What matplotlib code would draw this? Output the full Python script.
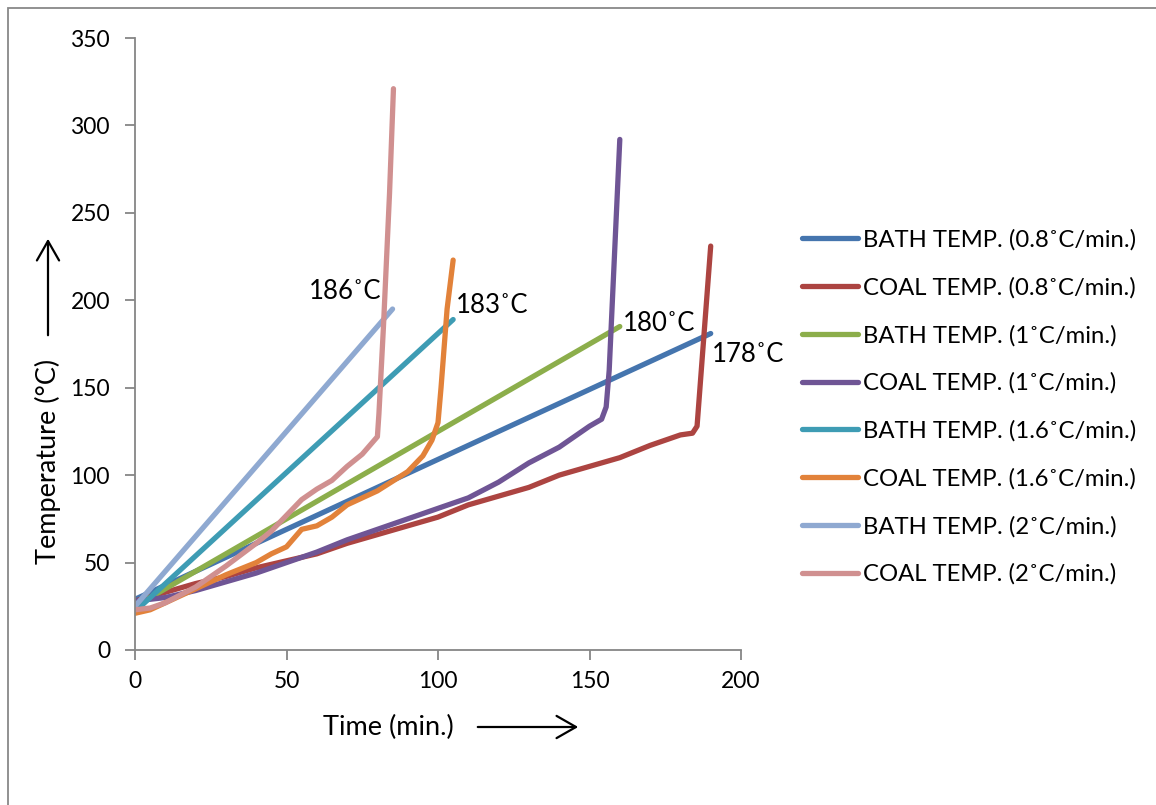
import matplotlib
matplotlib.use("Agg")
import matplotlib.pyplot as plt
from matplotlib.patches import Rectangle, FancyArrowPatch

plt.rcParams['font.family'] = ['Lato', 'DejaVu Sans']

# ---- data ----
bath08_x = [0, 190]
bath08_y = [29, 181]
coal08_x = [0, 10, 20, 30, 40, 50, 60, 70, 80, 90, 100, 110, 120, 130, 140, 150, 160, 170, 180, 184, 185.5, 190]
coal08_y = [28, 33, 38, 42, 47, 51, 55, 61, 66, 71, 76, 83, 88, 93, 100, 105, 110, 117, 123, 124, 128, 231]

bath1_x = [0, 160]
bath1_y = [25, 185]
coal1_x = [0, 10, 20, 30, 40, 50, 60, 70, 80, 90, 100, 110, 120, 130, 140, 150, 154, 155.5, 156.5, 160]
coal1_y = [28, 30, 34, 39, 44, 50, 56, 63, 69, 75, 81, 87, 96, 107, 116, 128, 132, 139, 160, 292]

bath16_x = [0, 105]
bath16_y = [22, 189]
coal16_x = [0, 5, 10, 20, 30, 40, 45, 50, 55, 60, 65, 70, 80, 90, 95, 98, 100, 101, 103, 105]
coal16_y = [21, 23, 27, 35, 43, 50, 55, 59, 69, 71, 76, 83, 91, 102, 111, 120, 130, 150, 195, 223]

bath2_x = [0, 85]
bath2_y = [25, 195]
coal2_x = [0, 5, 10, 20, 30, 40, 45, 50, 55, 60, 65, 70, 75, 78, 80, 80.5, 82, 84, 85.3]
coal2_y = [23, 24, 27, 36, 48, 61, 68, 77, 86, 92, 97, 105, 112, 118, 122, 135, 185, 261, 321]

series_labels = ["BATH TEMP. (0.8˚C/min.)", "COAL TEMP. (0.8˚C/min.)",
                 "BATH TEMP. (1˚C/min.)", "COAL TEMP. (1˚C/min.)",
                 "BATH TEMP. (1.6˚C/min.)", "COAL TEMP. (1.6˚C/min.)",
                 "BATH TEMP. (2˚C/min.)", "COAL TEMP. (2˚C/min.)"]
series_colors = ["#4575AE", "#AC4441", "#8CAE4B", "#6F5595",
                 "#3E9CB4", "#E2823A", "#8FA9D1", "#D09090"]

annot_text = ["186˚C", "183˚C", "180˚C", "178˚C"]
annot_xy = [(57.5, 205), (106, 197), (161, 187), (190.5, 169)]

xticks = [0, 50, 100, 150, 200]
yticks = [0, 50, 100, 150, 200, 250, 300, 350]

# ---- figure ----
W, H = 1156, 805
fig = plt.figure(figsize=(W / 100, H / 100), dpi=100)
fig.patch.set_facecolor("white")

# outer chart border (left & top visible)
fig.patches.append(Rectangle((8 / W, -0.1), 1.2, 1 - 8 / H + 0.1, transform=fig.transFigure,
                             fill=False, edgecolor="#888888", linewidth=1.3))

ax = fig.add_axes([135 / W, 1 - 650 / H, (741 - 135) / W, (650 - 38) / H])

xs = [bath08_x, coal08_x, bath1_x, coal1_x, bath16_x, coal16_x, bath2_x, coal2_x]
ys = [bath08_y, coal08_y, bath1_y, coal1_y, bath16_y, coal16_y, bath2_y, coal2_y]
for x, y, c, lab in zip(xs, ys, series_colors, series_labels):
    ax.plot(x, y, color=c, linewidth=3.8, label=lab, solid_capstyle="round", solid_joinstyle="round")

ax.set_xlim(0, 200)
ax.set_ylim(0, 350)
ax.set_xticks(xticks)
ax.set_yticks(yticks)
for s in ["top", "right"]:
    ax.spines[s].set_visible(False)
for s in ["left", "bottom"]:
    ax.spines[s].set_color("#868686")
    ax.spines[s].set_linewidth(1.3)
ax.tick_params(axis="both", colors="#868686", length=7, width=1.3, labelcolor="black",
               labelsize=16.5)
ax.tick_params(axis="y", pad=11)
ax.tick_params(axis="x", pad=8)

for t, (tx, ty) in zip(annot_text, annot_xy):
    ax.text(tx, ty, t, fontsize=18.5, ha="left", va="center")

# axis labels and arrows
fig.text(48 / W, 1 - 461 / H, "Temperature (°C)", rotation=90, ha="center", va="center", fontsize=19.5)
fig.text(388 / W, 1 - 727 / H, "Time (min.)", ha="center", va="center", fontsize=19.5)
fig.add_artist(FancyArrowPatch((48 / W, 1 - 338 / H), (48 / W, 1 - 236 / H),
               transform=fig.transFigure, arrowstyle="->,head_length=7,head_width=4",
               color="black", linewidth=1.6, mutation_scale=2))
fig.add_artist(FancyArrowPatch((475 / W, 1 - 727 / H), (581 / W, 1 - 727 / H),
               transform=fig.transFigure, arrowstyle="->,head_length=7,head_width=4",
               color="black", linewidth=1.6, mutation_scale=2))

leg = ax.legend(loc="upper left", bbox_to_anchor=(802 / W, 1 - 229 / H), bbox_transform=fig.transFigure,
                frameon=False, fontsize=17.2, handlelength=2.35, handletextpad=0.2,
                labelspacing=1.1, borderaxespad=0, borderpad=0)
for l in leg.get_lines():
    l.set_linewidth(3.8)

fig.savefig("out.png", dpi=100, facecolor="white")
